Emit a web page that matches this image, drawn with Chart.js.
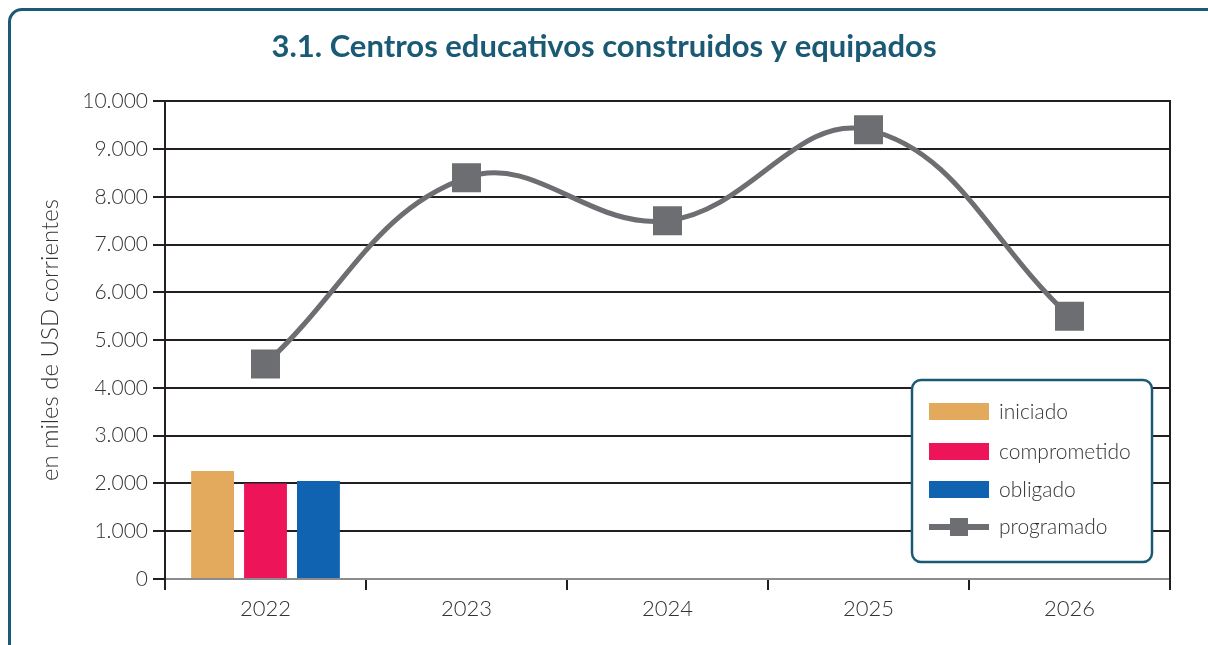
<!DOCTYPE html>
<html lang="es">
<head>
<meta charset="UTF-8">
<title>3.1. Centros educativos construidos y equipados</title>
<script src="https://cdn.jsdelivr.net/npm/chart.js"></script>
<style>
    html, body { margin: 0; padding: 0; background: #fff; overflow: hidden; }
    .wrap { position: relative; width: 1208px; height: 645px; }
    .frame {
        position: absolute; left: 8px; top: 8px;
        width: 1240px; height: 700px;
        border: 3px solid #1b5a74; border-radius: 14px;
        box-sizing: border-box;
    }
    canvas { position: absolute; left: 0; top: 0; }
</style>
</head>
<body>
<div class="wrap">
    <div class="frame"></div>
    <canvas id="chart" width="1208" height="645"></canvas>
</div>
<script>
const years = ['2022', '2023', '2024', '2025', '2026'];
const iniciado = [2260, null, null, null, null];
const comprometido = [2000, null, null, null, null];
const obligado = [2050, null, null, null, null];
const programado = [4500, 8400, 7500, 9400, 5500];
const yTicks = [0, 1000, 2000, 3000, 4000, 5000, 6000, 7000, 8000, 9000, 10000];

const teal = '#1b5a74';
const ink = '#231f20';
const textColor = '#333333';
const fontFamily = 'Lato, "Noto Sans", sans-serif';

// leyenda con recuadro redondeado dentro del área del gráfico
const boxLegend = {
    id: 'boxLegend',
    afterDraw(chart) {
        const ctx = chart.ctx;
        const x = 912, y = 380, w = 240, h = 182;
        ctx.save();
        ctx.beginPath();
        ctx.roundRect(x, y, w, h, 9);
        ctx.fillStyle = '#fff';
        ctx.fill();
        ctx.lineWidth = 2.5;
        ctx.strokeStyle = teal;
        ctx.stroke();

        const rows = [32, 72, 110, 147];
        ctx.font = '300 21px ' + fontFamily;
        ctx.textBaseline = 'middle';
        chart.data.datasets.forEach((ds, i) => {
            const cy = y + rows[i];
            if (ds.type === 'line') {
                ctx.fillStyle = ds.borderColor;
                ctx.fillRect(x + 17, cy - 3, 60, 6);
                ctx.fillRect(x + 38, cy - 9, 18, 18);
            } else {
                ctx.fillStyle = ds.backgroundColor;
                ctx.fillRect(x + 17, cy - 9, 60, 17);
            }
            ctx.fillStyle = textColor;
            ctx.fillText(ds.label, x + 87, cy);
        });
        ctx.restore();
    }
};

new Chart(document.getElementById('chart'), {
    data: {
        labels: years,
        datasets: [
            { type: 'bar', label: 'iniciado', data: iniciado, backgroundColor: '#e3a95c', order: 2 },
            { type: 'bar', label: 'comprometido', data: comprometido, backgroundColor: '#ee1459', order: 2 },
            { type: 'bar', label: 'obligado', data: obligado, backgroundColor: '#0f63b0', order: 2 },
            {
                type: 'line', label: 'programado', data: programado,
                borderColor: '#6d6e71', backgroundColor: '#6d6e71',
                borderWidth: 5, tension: 0.4,
                pointStyle: 'rect', pointRadius: 20.5, pointHoverRadius: 20.5,
                pointBorderWidth: 0, order: 0
            }
        ]
    },
    options: {
        responsive: false,
        animation: false,
        events: [],
        datasets: {
            bar: { categoryPercentage: 0.79, barPercentage: 0.81, grouped: true }
        },
        plugins: {
            legend: { display: false },
            tooltip: { enabled: false },
            title: {
                display: true,
                text: '3.1. Centros educativos construidos y equipados',
                color: teal,
                font: { family: fontFamily, size: 31, weight: 'bold' },
                padding: { top: 28, bottom: 36 }
            }
        },
        scales: {
            x: {
                grid: {
                    offset: true,
                    drawOnChartArea: false,
                    tickLength: 11,
                    tickColor: ink,
                    lineWidth: 2
                },
                border: { display: true, color: '#8c8c8c', width: 2 },
                ticks: {
                    color: textColor, padding: 6,
                    font: { family: fontFamily, size: 22, weight: 300 }
                },
                afterFit(scale) { scale.height = 66; }
            },
            y: {
                min: 0, max: 10000,
                afterBuildTicks(scale) { scale.ticks = yTicks.map(v => ({ value: v })); },
                grid: {
                    color: ctx => ctx.tick && ctx.tick.value === 0 ? '#8c8c8c' : ink,
                    tickColor: ink,
                    lineWidth: 2,
                    tickLength: 12
                },
                border: { display: true, color: ink, width: 2 },
                ticks: {
                    color: textColor, padding: 5,
                    font: { family: fontFamily, size: 21, weight: 300 },
                    callback: v => v.toLocaleString('de-DE')
                },
                title: {
                    display: true,
                    text: 'en miles de USD corrientes',
                    color: textColor,
                    font: { family: fontFamily, size: 24, weight: 300 },
                    padding: { top: 36, bottom: 0 }
                },
                afterFit(scale) { scale.width = 165; }
            },
            // eje derecho vacío: sólo traza el borde del área y reserva el margen
            yRight: {
                position: 'right',
                min: 0, max: 10000,
                grid: { display: false },
                ticks: { display: false },
                border: { display: true, color: ink, width: 2 },
                afterFit(scale) { scale.width = 38; }
            }
        }
    },
    plugins: [boxLegend]
});
</script>
</body>
</html>
